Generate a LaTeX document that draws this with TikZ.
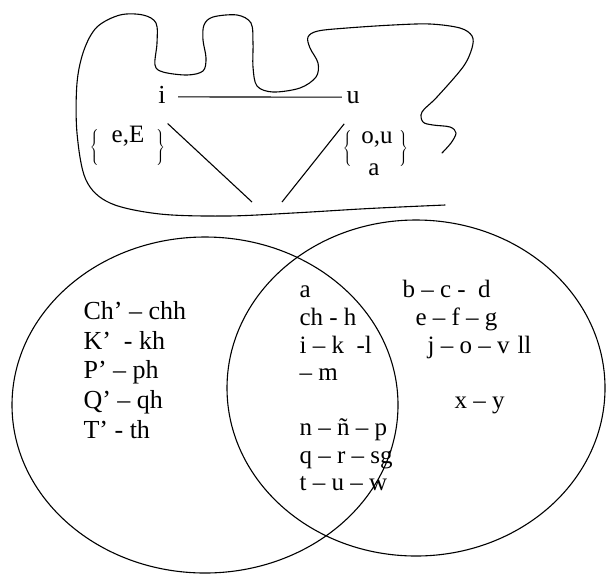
\documentclass[tikz,border=0pt]{standalone}
\usepackage{fontspec}
\setmainfont{Liberation Serif}
\begin{document}
\begin{tikzpicture}[x=1pt,y=-1pt,line width=1.1pt,
  txt/.style={font=\fontsize{25}{30}\selectfont,inner sep=0pt,anchor=base west},
  ltxt/.style={txt,font=\fontsize{26}{30}\selectfont},
  toptxt/.style={font=\fontsize{26}{30}\selectfont,inner sep=0pt,anchor=base},
  grptxt/.style={font=\fontsize{25}{30}\selectfont,inner sep=0pt,anchor=base},
  brc/.style={font=\fontsize{20}{24}\selectfont,inner sep=0pt}]
\fill[white] (0,0) rectangle (609,574);
\useasboundingbox (0,0) rectangle (609,574);
% blob
\draw[line cap=round] plot[smooth,tension=0.55] coordinates {
 (445,205) (400,207) (360,209) (293,213) (227,216) (160,214) (110,203)
 (86,180) (77,133) (77,83) (84,50) (97,27) (120,15) (143,15) (156,23)
 (157,43) (155,65) (163,72) (187,75) (203,71) (206,58) (203,40) (204,25)
 (213,17) (237,15) (251,23) (253,43) (253,67) (257,86) (273,92) (300,88)
 (316,77) (318,63) (310,48) (308,37) (318,31) (347,28) (393,25) (430,24)
 (460,28) (472,36) (472,48) (463,67) (437,97) (422,112) (423,122)
 (433,125) (450,127) (456,133) (451,143) (442,153)};
% venn
\draw (205,405) ellipse [x radius=193pt,y radius=168pt];
\draw (416,388) ellipse [x radius=189pt,y radius=168pt];
% top labels
\node[toptxt] (i) at (162,103) {i};
\node[toptxt] (u) at (353,103) {u};
\draw ([xshift=12pt,yshift=-2.5pt]i.east) -- ([xshift=-4pt]u.west);
\coordinate (vb1) at (252,202);
\coordinate (vb2) at (282,202);
\draw ([xshift=1.5pt,yshift=-20pt]i.south east) -- (vb1);
\draw ([xshift=-1.75pt,yshift=-20pt]u.south west) -- (vb2);
% brace groups
\node[grptxt] (eE) at (128,142) {e,E};
\node[grptxt] (ou) at (377,143) {o,u};
\node[grptxt] (aa) at (374,175) {a};
\node[brc] (bl1) at (95,147) {$\left\{\vcenter{\hrule height 37pt width 0pt}\right.$};
\node[brc] (br1) at (160,147) {$\left.\vcenter{\hrule height 37pt width 0pt}\right\}$};
\node[brc] (bl2) at (348,148) {$\left\{\vcenter{\hrule height 37pt width 0pt}\right.$};
\node[brc] (br2) at (403,148) {$\left.\vcenter{\hrule height 37pt width 0pt}\right\}$};
% left column
\node[ltxt] (l1) at (83,319) {Ch’ – chh};
\node[ltxt] (l2) at (83,349) {K’\ \ - kh};
\node[ltxt] (l3) at (83,378) {P’ – ph};
\node[ltxt] (l4) at (83,408) {Q’ – qh};
\node[ltxt] (l5) at (83,438) {T’ - th};
% middle column
\node[txt] (m1) at (299,297) {a};
\node[txt] (m2) at (299,325) {ch - h};
\node[txt] (m3) at (299,353) {i – k\ \ -l};
\node[txt] (m4) at (299,380) {– m};
\node[txt] (m5) at (299,435) {n – ñ – p};
\node[txt] (m6) at (299,463) {q – r – sg};
\node[txt] (m7) at (299,490) {t – u – w};
% right column
\node[txt] (r1) at (402,297) {b – c -\ \ d};
\node[txt] (r2) at (415,325) {e – f – g};
\node[txt] (r3) at (427,353) {j – o – v\hspace{8pt}ll};
\node[txt] (r4) at (454,408) {x – y};
\end{tikzpicture}
\end{document}
